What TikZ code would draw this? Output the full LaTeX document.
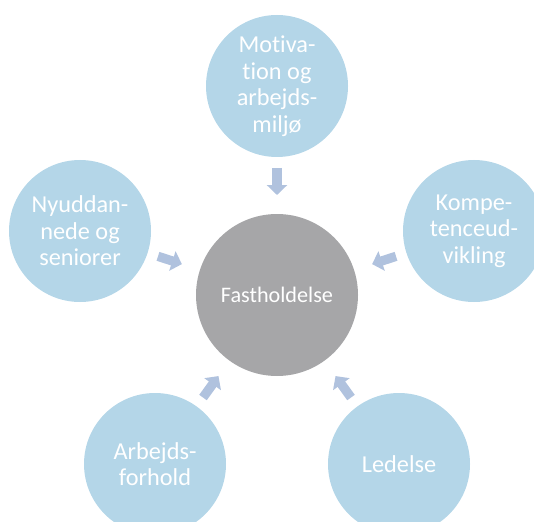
\documentclass[tikz,border=0pt]{standalone}
\usepackage{fontspec}
\setmainfont{Carlito}[Ligatures=NoCommon]
\usetikzlibrary{arrows.meta}
\definecolor{cblue}{RGB}{180,214,232}
\definecolor{cgray}{RGB}{166,166,168}
\definecolor{carrow}{RGB}{176,194,222}
\begin{document}
\begin{tikzpicture}[x=1pt,y=-1pt,
  outer/.style={circle, fill=cblue, draw=none, minimum size=142pt, inner sep=0pt, outer sep=0pt, text=white, align=center, font=\fontsize{24.3}{26.5}\selectfont},
  hub/.style={circle, fill=cgray, draw=none, minimum size=162pt, inner sep=0pt, outer sep=0pt, text=white, align=center, font=\fontsize{22.2}{25}\selectfont},
  flow/.style={draw=carrow, line width=9.3pt, -{Triangle[width=20pt,length=10pt]}, shorten <=11pt, shorten >=19pt}]
\useasboundingbox (0,0) rectangle (534,521);
\clip (0,0) rectangle (534,521);
\node[hub] (c) at (277,295) {Fastholdelse};
\node[outer] (m) at (277,86) {Motiva-\\tion og\\arbejds-\\miljø};
\node[outer] (n) at (80,231) {Nyuddan-\\nede og\\seniorer};
\node[outer] (k) at (474,231) {Kompe-\\tenceud-\\vikling};
\node[outer] (a) at (155,464) {Arbejds-\\forhold};
\node[outer] (l) at (399,464) {Ledelse};
\draw[flow] (m) -- (c);
\draw[flow] (n) -- (c);
\draw[flow] (k) -- (c);
\draw[flow] (a) -- (c);
\draw[flow] (l) -- (c);
\end{tikzpicture}
\end{document}
